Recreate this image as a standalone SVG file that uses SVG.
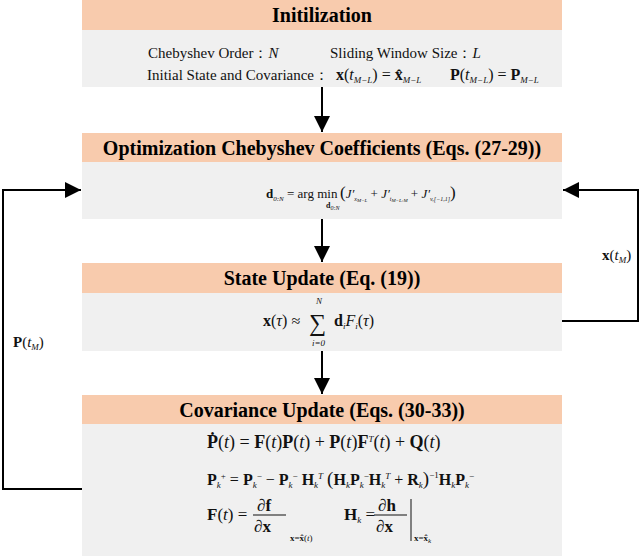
<svg xmlns="http://www.w3.org/2000/svg" width="640" height="556" viewBox="0 0 640 556">
<style>
.hd{fill:#F8CBAD}
.bd{fill:#F0F0F0}
.tt{font-family:"Times New Roman","Liberation Serif","DejaVu Serif",serif;font-weight:bold;font-size:20px;fill:#000;text-anchor:middle}
.tx{font-family:"Times New Roman","Liberation Serif","DejaVu Serif",serif;font-size:15px;fill:#111}
.m{font-family:"Times New Roman","Liberation Serif","DejaVu Serif",serif;font-size:16px;fill:#111}
.b{font-weight:bold}
.i{font-style:italic}
.s{font-size:9px}
.ln{fill:none;stroke:#000;stroke-width:2}
</style>
<defs>
<marker id="ah2" viewBox="0 0 10 10" refX="10" refY="5" markerWidth="16" markerHeight="16" markerUnits="userSpaceOnUse" orient="auto">
<path d="M0,0 L10,5 L0,10 Z" fill="#000"/>
</marker>
</defs>

<g id="connectors">
<line class="ln" x1="322" y1="87" x2="322" y2="132" marker-end="url(#ah2)"/>
<line class="ln" x1="322" y1="219" x2="322" y2="262" marker-end="url(#ah2)"/>
<line class="ln" x1="322" y1="351" x2="322" y2="394" marker-end="url(#ah2)"/>
<polyline class="ln" points="85,489 3,489 3,190 81,190" marker-end="url(#ah2)"/>
<polyline class="ln" points="560,321 638,321 638,190 563,190" marker-end="url(#ah2)"/>
<text class="m" x="13" y="347" style="font-size:15px"><tspan class="b">P</tspan>(<tspan class="i">t</tspan><tspan class="s i" dy="3">M</tspan><tspan dy="-3">)</tspan></text>
<text class="m" x="602" y="260" style="font-size:15px"><tspan class="b">x</tspan>(<tspan class="i">t</tspan><tspan class="s i" dy="3">M</tspan><tspan dy="-3">)</tspan></text>
</g>

<g id="init">
<rect class="hd" x="82" y="0" width="480" height="30"/>
<rect class="bd" x="82" y="30" width="480" height="57"/>
<text class="tt" x="322" y="22">Initilization</text>
<text class="tx" x="148" y="58">Chebyshev Order：<tspan class="i">N</tspan></text>
<text class="tx" x="330" y="58">Sliding Window Size：<tspan class="i">L</tspan></text>
<text class="tx" x="147" y="80">Initial State and Covariance：</text>
<text class="tx" x="336" y="80" style="font-size:16px"><tspan class="b">x</tspan>(<tspan class="i">t</tspan><tspan class="s i" dy="3">M−L</tspan><tspan dy="-3">) = </tspan><tspan class="b">x̂</tspan><tspan class="s i" dy="3">M−L</tspan></text>
<text class="tx" x="450" y="80" style="font-size:16px"><tspan class="b">P</tspan>(<tspan class="i">t</tspan><tspan class="s i" dy="3">M−L</tspan><tspan dy="-3">) = </tspan><tspan class="b">P</tspan><tspan class="s i" dy="3">M−L</tspan></text>
</g>

<g id="optimization">
<rect class="hd" x="82" y="133" width="480" height="29"/>
<rect class="bd" x="82" y="162" width="480" height="57"/>
<text class="tt" x="322" y="155">Optimization Chebyshev Coefficients (Eqs. (27-29))</text>
<text class="tx" x="266" y="198" style="font-size:13px"><tspan class="b">d</tspan><tspan class="i" style="font-size:7px" dy="3">0:N</tspan><tspan dy="-3"> = arg min</tspan></text>
<text class="tx" x="326" y="208" style="font-size:8px"><tspan class="b">d</tspan><tspan dy="2" style="font-size:6px" class="i">0:N</tspan></text>
<text class="tx" x="340" y="198" style="font-size:13px"><tspan style="font-size:17px">(</tspan><tspan class="i">J′</tspan><tspan class="i" style="font-size:6px" dy="3">x</tspan><tspan style="font-size:5px" class="i" dy="1">M−L</tspan><tspan dy="-4"> + </tspan><tspan class="i">J′</tspan><tspan class="i" style="font-size:6px" dy="3">t</tspan><tspan style="font-size:5px" class="i" dy="1">M−L:M</tspan><tspan dy="-4"> + </tspan><tspan class="i">J′</tspan><tspan class="i" style="font-size:6px" dy="3">v,[−1,1]</tspan><tspan dy="-3" style="font-size:17px">)</tspan></text>
</g>

<g id="state">
<rect class="hd" x="82" y="263" width="480" height="30"/>
<rect class="bd" x="82" y="293" width="480" height="58"/>
<text class="tt" x="322" y="285">State Update (Eq. (19))</text>
<text class="m" x="263" y="326"><tspan class="b">x</tspan>(<tspan class="i">τ</tspan>) ≈</text>
<text class="m" x="309" y="331" style="font-size:24px">∑</text>
<text class="m s i" x="316" y="304">N</text>
<text class="m s i" x="312" y="346">i=0</text>
<text class="m" x="334" y="326"><tspan class="b">d</tspan><tspan class="s i" dy="3">i</tspan><tspan class="i" dy="-3">F</tspan><tspan class="s i" dy="3">i</tspan><tspan dy="-3">(</tspan><tspan class="i">τ</tspan>)</text>
</g>

<g id="covariance">
<rect class="hd" x="82" y="395" width="480" height="29"/>
<rect class="bd" x="82" y="424" width="480" height="132"/>
<text class="tt" x="322" y="417">Covariance Update (Eqs. (30-33))</text>
<text class="m" x="207" y="448" style="font-size:18px"><tspan class="b">Ṗ</tspan>(<tspan class="i">t</tspan>) = <tspan class="b">F</tspan>(<tspan class="i">t</tspan>)<tspan class="b">P</tspan>(<tspan class="i">t</tspan>) + <tspan class="b">P</tspan>(<tspan class="i">t</tspan>)<tspan class="b">F</tspan><tspan class="s i" dy="-6">T</tspan><tspan dy="6">(</tspan><tspan class="i">t</tspan>) + <tspan class="b">Q</tspan>(<tspan class="i">t</tspan>)</text>
<text class="m" x="207" y="485"><tspan class="b">P</tspan><tspan class="s i" dy="3">k</tspan><tspan class="s" dy="-9">+</tspan><tspan dy="6"> = </tspan><tspan class="b">P</tspan><tspan class="s i" dy="3">k</tspan><tspan class="s" dy="-9">−</tspan><tspan dy="6"> − </tspan><tspan class="b">P</tspan><tspan class="s i" dy="3">k</tspan><tspan class="s" dy="-9">−</tspan><tspan dy="6"> </tspan><tspan class="b">H</tspan><tspan class="s i" dy="3">k</tspan><tspan class="s i" dy="-9">T</tspan><tspan dy="6"> </tspan><tspan style="font-size:19px">(</tspan><tspan class="b">H</tspan><tspan class="s i" dy="3">k</tspan><tspan dy="-3" class="b">P</tspan><tspan class="s i" dy="3">k</tspan><tspan class="s" dy="-9">−</tspan><tspan dy="6" class="b">H</tspan><tspan class="s i" dy="3">k</tspan><tspan class="s i" dy="-9">T</tspan><tspan dy="6"> + </tspan><tspan class="b">R</tspan><tspan class="s i" dy="3">k</tspan><tspan dy="-3" style="font-size:19px">)</tspan><tspan class="s" dy="-7">−1</tspan><tspan dy="7" class="b">H</tspan><tspan class="s i" dy="3">k</tspan><tspan dy="-3" class="b">P</tspan><tspan class="s i" dy="3">k</tspan><tspan class="s" dy="-9">−</tspan></text>
<text class="m" x="207" y="520" style="font-size:17px"><tspan class="b">F</tspan>(<tspan class="i">t</tspan>) =</text>
<text class="m" x="257" y="511" style="font-size:17px">∂<tspan class="b">f</tspan></text>
<line x1="253" y1="515" x2="286" y2="515" stroke="#111" stroke-width="1"/>
<text class="m" x="254" y="532" style="font-size:17px">∂<tspan class="b">x</tspan></text>
<text class="m s" x="290" y="541"><tspan class="b">x</tspan>=<tspan class="b">x̂</tspan>(<tspan class="i">t</tspan>)</text>
<text class="m" x="344" y="520" style="font-size:17px"><tspan class="b">H</tspan><tspan class="s i" dy="3">k</tspan><tspan dy="-3"> =</tspan></text>
<text class="m" x="378" y="511" style="font-size:17px">∂<tspan class="b">h</tspan></text>
<line x1="374" y1="515" x2="407" y2="515" stroke="#111" stroke-width="1"/>
<text class="m" x="376" y="532" style="font-size:17px">∂<tspan class="b">x</tspan></text>
<line x1="411" y1="499" x2="411" y2="541" stroke="#111" stroke-width="1"/>
<text class="m s" x="414" y="541"><tspan class="b">x</tspan>=<tspan class="b">x̂</tspan><tspan class="i" style="font-size:7px" dy="2">k</tspan></text>
</g>
</svg>
